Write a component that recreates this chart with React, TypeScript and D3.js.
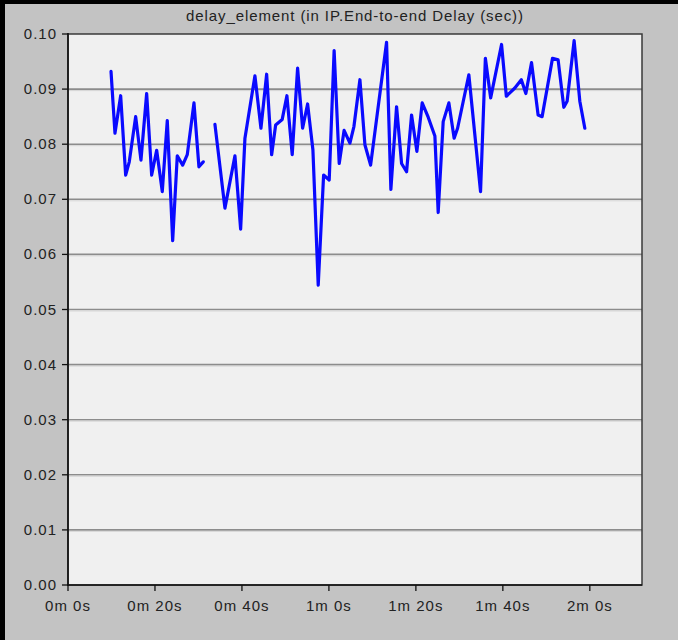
import React from "react";
import * as d3 from "d3";

const TITLE = "delay_element (in IP.End-to-end Delay (sec))";

// time in seconds; null marks the gap in the series
const times: (number | null)[] = [
  9.89, 10.8, 12.11, 13.26, 14.09, 15.56, 16.78, 18.09, 19.24, 20.39, 21.68, 22.83, 24.07, 25.13, 26.37, 27.43, 28.97, 30.11, 31.1,
  null,
  33.79, 36.09, 38.39, 39.7, 40.69, 42.99, 44.37, 45.68, 46.83, 47.75, 49.26, 50.34, 51.56, 52.8, 53.95, 55.1, 56.32, 57.54,
  58.78, 60.07, 61.2, 62.37, 63.49, 64.83, 65.75, 67.13, 68.28, 69.59, 73.26, 74.25, 75.56, 76.71, 77.86, 79.01, 80.23,
  81.45, 82.83, 84.37, 85.13, 86.28, 87.59, 88.8, 89.59, 92.18, 94.87, 95.98, 97.2, 99.7, 100.8, 102.76, 104.25, 105.29,
  106.6, 108.11, 109.03, 111.42, 112.71, 114.02, 114.78, 116.39, 117.7, 118.85,
];

const delays: (number | null)[] = [
  0.0932, 0.082, 0.0888, 0.0744, 0.0768, 0.085, 0.0771, 0.0892, 0.0744, 0.0789, 0.0714, 0.0843, 0.0625, 0.0779, 0.0762, 0.0781, 0.0875, 0.0759, 0.0768,
  null,
  0.0836, 0.0684, 0.0779, 0.0646, 0.0811, 0.0924, 0.0829, 0.0927, 0.0781, 0.0835, 0.0845, 0.0888, 0.0781, 0.0938, 0.0829, 0.0873, 0.079, 0.0544,
  0.0744, 0.0735, 0.097, 0.0765, 0.0825, 0.0802, 0.0832, 0.0917, 0.0799, 0.0762, 0.0985, 0.0718, 0.0868, 0.0765, 0.075, 0.0853, 0.0787,
  0.0875, 0.0849, 0.0815, 0.0676, 0.0841, 0.0875, 0.0811, 0.0829, 0.0926, 0.0714, 0.0956, 0.0884, 0.0981, 0.0887, 0.0902, 0.0917, 0.0892,
  0.0948, 0.0853, 0.085, 0.0956, 0.0953, 0.0867, 0.0878, 0.0988, 0.0878, 0.0829,
];

const xTicks = [0, 20, 40, 60, 80, 100, 120];
const yTicks = [0, 0.01, 0.02, 0.03, 0.04, 0.05, 0.06, 0.07, 0.08, 0.09, 0.1];

const fmtTime = (t: number) => `${Math.floor(t / 60)}m ${t % 60}s`;

export default function App() {
  const W = 678, H = 640;
  const L = 68, R = 642, T = 34, B = 585;
  const x = d3.scaleLinear().domain([0, 132]).range([L, R]);
  const y = d3.scaleLinear().domain([0, 0.1]).range([B, T]);
  const pts = times.map((t, i) => [t, delays[i]] as [number | null, number | null]);
  const line = d3
    .line<[number | null, number | null]>()
    .defined((d) => d[0] != null && d[1] != null)
    .x((d) => x(d[0] as number))
    .y((d) => y(d[1] as number));

  const font = "'Liberation Sans', Arial, sans-serif";

  return (
    <svg width={W} height={H} style={{ position: "absolute", left: 0, top: 0 }} fontFamily={font}>
      <rect x={0} y={0} width={W} height={H} fill="#c3c3c3" />
      <rect x={0} y={0} width={W} height={4} fill="#000" />
      <rect x={0} y={0} width={5} height={H} fill="#000" />
      <text x={355} y={21} textAnchor="middle" fontSize={15} letterSpacing={0.9} fill="#222">{TITLE}</text>
      <rect x={L} y={T} width={R - L} height={B - T} fill="#f0f0f0" />
      {yTicks.slice(1, -1).map((v) => (
        <g key={v}>
          <line x1={L} x2={R} y1={y(v)} y2={y(v)} stroke="#8c8c8c" strokeWidth={1.6} />
          <line x1={L} x2={R} y1={y(v) + 1.5} y2={y(v) + 1.5} stroke="#d6d6d6" strokeWidth={1} />
        </g>
      ))}
      <rect x={L} y={T} width={R - L} height={B - T} fill="none" stroke="#3a3a3a" strokeWidth={1.5} />
      <line x1={L} x2={L} y1={T - 1} y2={B + 1} stroke="#111" strokeWidth={1.6} />
      <line x1={L - 1} x2={R} y1={B} y2={B} stroke="#111" strokeWidth={1.6} />
      <path d={line(pts) || ""} fill="none" stroke="#0a0aff" strokeWidth={3.2} strokeLinejoin="round" strokeLinecap="round" />
      {yTicks.map((v) => (
        <g key={"yt" + v}>
          <line x1={L - 6} x2={L} y1={y(v)} y2={y(v)} stroke="#111" strokeWidth={1.3} />
          <text x={L - 11} y={y(v) + 5} textAnchor="end" fontSize={15} letterSpacing={1} fill="#222">{v.toFixed(2)}</text>
        </g>
      ))}
      {xTicks.map((t) => (
        <g key={"xt" + t}>
          <line x1={x(t)} x2={x(t)} y1={B} y2={B + 6} stroke="#111" strokeWidth={1.3} />
          <text x={x(t)} y={611} textAnchor="middle" fontSize={15} letterSpacing={1} fill="#222">{fmtTime(t)}</text>
        </g>
      ))}
    </svg>
  );
}
